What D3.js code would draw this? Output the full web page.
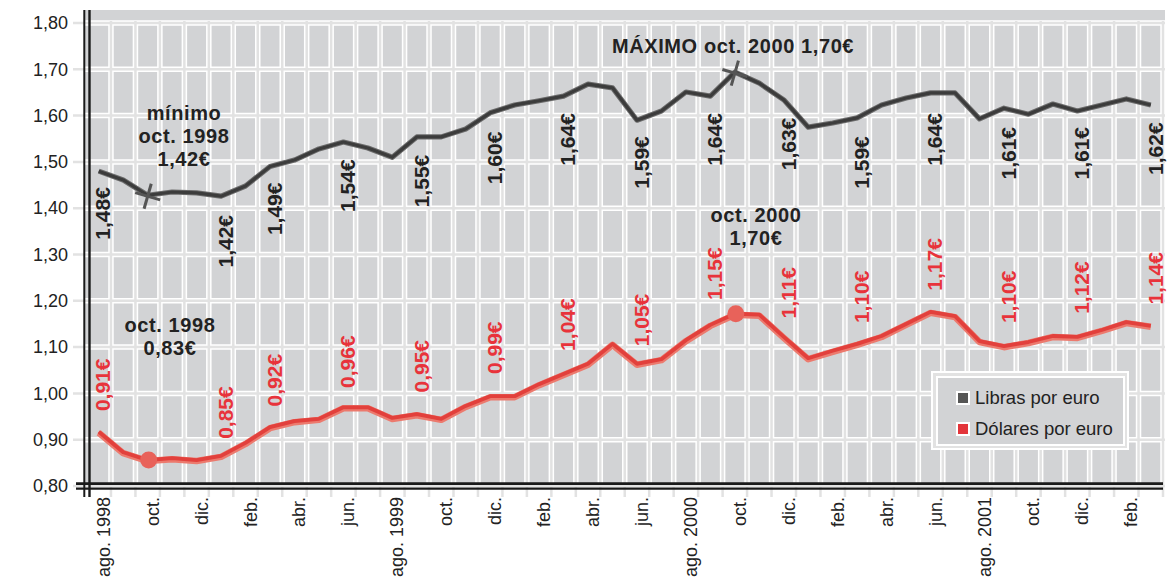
<!DOCTYPE html>
<html lang="es">
<head>
    <meta charset="UTF-8">
    <title>Libras y dólares por euro</title>
    <script src="https://d3js.org/d3.v7.min.js"></script>
    <style>
        body { margin: 0; background: #fff; }
        svg { font-family: "Liberation Sans", Arial, sans-serif; }
        .axis text { font-size: 18px; fill: #222; }
        .axis path, .axis line { display: none; }
        .note { font-size: 20px; font-weight: bold; fill: #222; letter-spacing: 0.6px; text-anchor: middle; }
        .vlab { font-size: 21px; font-weight: bold; }
    </style>
</head>
<body>
<script>
    const width = 1172;
    const height = 581;

    // meses (ago. 1998 - mar. 2002)
    const months = ["ago98","sep98","oct98","nov98","dic98",
        "ene99","feb99","mar99","abr99","may99","jun99","jul99","ago99","sep99","oct99","nov99","dic99",
        "ene00","feb00","mar00","abr00","may00","jun00","jul00","ago00","sep00","oct00","nov00","dic00",
        "ene01","feb01","mar01","abr01","may01","jun01","jul01","ago01","sep01","oct01","nov01","dic01",
        "ene02","feb02","mar02"];

    const tickMonths = ["ago98","oct98","dic98","feb99","abr99","jun99","ago99","oct99","dic99",
        "feb00","abr00","jun00","ago00","oct00","dic00","feb01","abr01","jun01","ago01","oct01","dic01","feb02"];
    const tickLabels = ["ago. 1998","oct.","dic.","feb.","abr.","jun.","ago. 1999","oct.","dic.",
        "feb.","abr.","jun.","ago. 2000","oct.","dic.","feb.","abr.","jun.","ago. 2001","oct.","dic.","feb."];

    const yTicks = [0.8, 0.9, 1.0, 1.1, 1.2, 1.3, 1.4, 1.5, 1.6, 1.7, 1.8];
    const yLabels = ["0,80","0,90","1,00","1,10","1,20","1,30","1,40","1,50","1,60","1,70","1,80"];

    const libras = [1.480, 1.461, 1.428, 1.435, 1.433, 1.426, 1.448, 1.490, 1.504, 1.528, 1.543, 1.530,
        1.510, 1.554, 1.554, 1.571, 1.606, 1.623, 1.632, 1.642, 1.668, 1.660, 1.590, 1.610,
        1.651, 1.642, 1.694, 1.670, 1.634, 1.575, 1.584, 1.595, 1.623, 1.638, 1.649, 1.649,
        1.593, 1.616, 1.603, 1.625, 1.610, 1.623, 1.636, 1.623];

    const dolares = [0.917, 0.873, 0.856, 0.860, 0.856, 0.865, 0.893, 0.927, 0.940, 0.945, 0.970, 0.970,
        0.947, 0.955, 0.945, 0.973, 0.994, 0.994, 1.020, 1.042, 1.064, 1.107, 1.064, 1.074,
        1.115, 1.148, 1.172, 1.170, 1.122, 1.076, 1.092, 1.107, 1.124, 1.150, 1.176, 1.167,
        1.113, 1.102, 1.111, 1.124, 1.122, 1.137, 1.154, 1.146];

    const labelMonths = ["ago98","ene99","mar99","jun99","sep99","dic99","mar00","jun00",
        "sep00","dic00","mar01","jun01","sep01","dic01","mar02"];
    const librasLabels = ["1,48€","1,42€","1,49€","1,54€","1,55€","1,60€","1,64€","1,59€",
        "1,64€","1,63€","1,59€","1,64€","1,61€","1,61€","1,62€"];
    const dolaresLabels = ["0,91€","0,85€","0,92€","0,96€","0,95€","0,99€","1,04€","1,05€",
        "1,15€","1,11€","1,10€","1,17€","1,10€","1,12€","1,14€"];

    const extremes = ["oct98", "oct00"];

    const svg = d3.select("body").append("svg")
            .attr("width", width).attr("height", height);

    const x = d3.scaleBand().domain(months).range([86.5, 1163]).padding(0);
    const y = d3.scaleLinear().domain([0.8, 1.8]).range([486, 23]);
    const bw = x.bandwidth();
    const cx = m => x(m) + bw / 2;
    const num = s => +s.replace("€", "").replace(",", ".");

    // fondo
    svg.append("rect")
        .attr("x", 84).attr("y", 10)
        .attr("width", 1165 - 84).attr("height", 489 - 10)
        .attr("fill", "#d2d3d5");

    // rejilla: blanco debajo, gris claro encima
    const vgrid = months.slice(1).map(m => x(m)).concat([1163]);
    const grid = svg.append("g");
    [["#fff", 5.5], ["#e2e2e2", 2.5]].forEach(([c, w]) => {
        grid.selectAll(null).data(vgrid).enter().append("line")
            .attr("x1", d => d).attr("x2", d => d)
            .attr("y1", y(1.8) - 2).attr("y2", 497)
            .attr("stroke", c).attr("stroke-width", w);
        grid.selectAll(null).data(yTicks).enter().append("line")
            .attr("x1", 73).attr("x2", 1165)
            .attr("y1", d => y(d)).attr("y2", d => y(d))
            .attr("stroke", c).attr("stroke-width", w);
    });

    // ejes dobles
    const frame = svg.append("g").attr("stroke", "#1a1a1a");
    frame.append("line").attr("x1", 84.3).attr("x2", 84.3).attr("y1", 10).attr("y2", 497).attr("stroke-width", 2);
    frame.append("line").attr("x1", 89.5).attr("x2", 89.5).attr("y1", 10).attr("y2", 497).attr("stroke-width", 2.4);
    frame.append("line").attr("x1", 76).attr("x2", 1163).attr("y1", 483.6).attr("y2", 483.6).attr("stroke-width", 2.6);
    frame.append("line").attr("x1", 76).attr("x2", 1163).attr("y1", 488.6).attr("y2", 488.6).attr("stroke-width", 2.4);

    // eje y
    svg.append("g").attr("class", "axis")
        .attr("transform", "translate(84,0)")
        .call(d3.axisLeft(y).tickValues(yTicks).tickSize(0).tickPadding(16)
            .tickFormat(d => yLabels[yTicks.indexOf(d)]));

    // eje x
    svg.append("g").attr("class", "axis")
        .attr("transform", "translate(0,486)")
        .call(d3.axisBottom(x).tickValues(tickMonths).tickSize(0)
            .tickFormat(d => tickLabels[tickMonths.indexOf(d)]))
        .selectAll("text")
        .attr("x", 0).attr("y", 0).attr("dy", 0)
        .attr("transform", "translate(11,11) rotate(-90)")
        .style("text-anchor", "end");

    // líneas
    const line = vals => d3.line()
        .x((d, i) => cx(months[i]))
        .y(d => y(d))(vals);

    svg.append("path").attr("d", line(dolares)).attr("transform", "translate(0,1)")
        .attr("fill", "none").attr("stroke", "#ec7a6e").attr("stroke-width", 6.5)
        .attr("stroke-linejoin", "round");
    svg.append("path").attr("d", line(dolares))
        .attr("fill", "none").attr("stroke", "#e2403c").attr("stroke-width", 3.8)
        .attr("stroke-linejoin", "round");

    svg.append("path").attr("d", line(libras))
        .attr("fill", "none").attr("stroke", "#6b6b6b").attr("stroke-width", 5.2)
        .attr("stroke-linejoin", "round");
    svg.append("path").attr("d", line(libras))
        .attr("fill", "none").attr("stroke", "#3c3c3c").attr("stroke-width", 3.2)
        .attr("stroke-linejoin", "round");

    // marcas de mínimo y máximo
    extremes.forEach(m => {
        const i = months.indexOf(m);
        svg.append("circle")
            .attr("cx", cx(m) + 1).attr("cy", y(dolares[i]))
            .attr("r", 8.5).attr("fill", "#e8625a");
        const g = svg.append("g")
            .attr("transform", `translate(${cx(m)},${y(libras[i]) + 1}) rotate(16)`)
            .attr("stroke", "#555").attr("stroke-width", 3);
        g.append("line").attr("x1", -13).attr("x2", 13).attr("y1", 0).attr("y2", 0);
        g.append("line").attr("x1", 0).attr("x2", 0).attr("y1", -13).attr("y2", 13);
    });

    // etiquetas de valores
    svg.selectAll("text.lib").data(labelMonths).enter().append("text")
        .attr("class", "vlab lib")
        .attr("fill", "#222")
        .attr("text-anchor", "end")
        .attr("transform", (d, i) => `translate(${x(d) + bw - 0.5},${y(num(librasLabels[i])) + 16}) rotate(-90)`)
        .text((d, i) => librasLabels[i]);

    svg.selectAll("text.dol").data(labelMonths).enter().append("text")
        .attr("class", "vlab dol")
        .attr("fill", "#e8333b")
        .attr("text-anchor", "start")
        .attr("transform", (d, i) => `translate(${x(d) + bw - 0.5},${y(num(dolaresLabels[i])) - 24}) rotate(-90)`)
        .text((d, i) => dolaresLabels[i]);

    // anotaciones
    const note = (lines, xc, y0, step) => {
        const t = svg.append("text").attr("class", "note");
        lines.forEach((s, k) => t.append("tspan").attr("x", xc).attr("y", y0 + k * step).text(s));
    };
    note(["mínimo", "oct. 1998", "1,42€"], 184, 120, 23);
    note(["MÁXIMO oct. 2000 1,70€"], 733, 53, 0);
    note(["oct. 2000", "1,70€"], 756, 222, 23);
    note(["oct. 1998", "0,83€"], 170, 332, 23);

    // leyenda
    const leg = svg.append("g").attr("transform", "translate(932,372)");
    leg.append("rect").attr("width", 196).attr("height", 77)
        .attr("fill", "#e2e2e2").attr("stroke", "#fff").attr("stroke-width", 2);
    leg.append("rect").attr("x", 5).attr("y", 5).attr("width", 187).attr("height", 68)
        .attr("fill", "#d2d3d5").attr("stroke", "#fff").attr("stroke-width", 2);
    const series = ["Libras por euro", "Dólares por euro"];
    const colors = ["#555555", "#e3343a"];
    series.forEach((s, k) => {
        const yy = 20 + k * 31;
        leg.append("rect").attr("x", 25).attr("y", yy).attr("width", 12).attr("height", 12)
            .attr("fill", colors[k]).attr("stroke", "#fff").attr("stroke-width", 2);
        leg.append("text").attr("x", 43).attr("y", yy + 12)
            .attr("font-size", 18.5).attr("fill", "#222").text(s);
    });
</script>
</body>
</html>
